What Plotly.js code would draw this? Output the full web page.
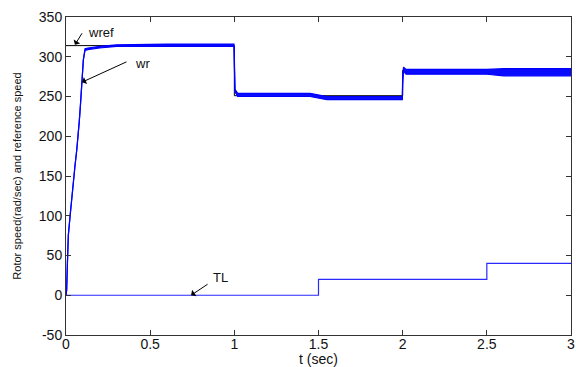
<!DOCTYPE html>
<html>
<head>
<meta charset="utf-8">
<script src="https://cdn.plot.ly/plotly-3.0.1.min.js"></script>
<style>
html,body{margin:0;padding:0;background:#fff;}
#chart{width:576px;height:367px;}
</style>
</head>
<body>
<div id="chart"></div>
<script>
// Reference speed (wref)
var tRef = [0, 1, 1, 2, 2, 3];
var wRef = [314, 314, 251, 251, 283, 283];

// Load torque (TL)
var tLoad = [0, 1.5, 1.5, 2.5, 2.5, 3];
var tlLoad = [0, 0, 20, 20, 40, 40];

// Rotor speed (wr) – lower / upper envelope of the rippled trace
var tWr = [0, 0.004, 0.008, 0.014, 0.024, 0.034, 0.043, 0.053, 0.064, 0.073, 0.079, 0.086, 0.093, 0.103, 0.113, 0.13, 0.2, 0.3, 0.6, 0.998, 1.0, 1.004, 1.02, 1.45, 1.55, 1.998, 2.0, 2.005, 2.02, 2.5, 2.6, 3.0];
var wrLow = [0, 7, 38, 76, 99, 123, 143, 162, 183, 200, 219, 240, 271, 296, 308, 309, 311, 313, 313, 313, 290, 256, 250, 250, 246, 246, 265, 282, 278, 278, 276, 276];
var wrHigh = [0, 7, 38, 76, 99, 123, 143, 162, 183, 200, 219, 240, 271, 296, 310, 311, 313, 315, 316, 316, 300, 259, 254, 254, 250, 250, 275, 287, 284, 284, 285, 285];

// Tick values
var xTicks = [0, 0.5, 1, 1.5, 2, 2.5, 3];
var xTickText = ['0', '0.5', '1', '1.5', '2', '2.5', '3'];
var yTicks = [-50, 0, 50, 100, 150, 200, 250, 300, 350];
var yTickText = ['-50', '0', '50', '100', '150', '200', '250', '300', '350'];

var traces = [
  {x: tRef, y: wRef, mode: 'lines', line: {color: '#000000', width: 1}, name: 'wref', hoverinfo: 'skip'},
  {x: tLoad, y: tlLoad, mode: 'lines', line: {color: '#2a2aff', width: 1.2}, name: 'TL', hoverinfo: 'skip'},
  {x: tWr, y: wrLow, mode: 'lines', line: {color: '#0000ff', width: 1.2}, name: 'wr', hoverinfo: 'skip'},
  {x: tWr, y: wrHigh, mode: 'lines', line: {color: '#0000ff', width: 1.2}, fill: 'tonexty', fillcolor: '#0a0aff', name: 'wr', hoverinfo: 'skip'}
];

var tickFont = {family: 'Liberation Sans, Arial, sans-serif', size: 14, color: '#111'};
var xTickFont = {family: 'Liberation Sans, Arial, sans-serif', size: 14, color: '#111'};
var annFont = {family: 'Liberation Sans, Arial, sans-serif', size: 13, color: '#111'};

var layout = {
  width: 576, height: 367,
  margin: {l: 66, r: 5, t: 17, b: 32, pad: 0},
  paper_bgcolor: '#ffffff', plot_bgcolor: '#ffffff',
  showlegend: false,
  xaxis: {
    range: [0, 3], tickvals: xTicks, ticktext: xTickText,
    ticks: 'inside', ticklen: 5, tickcolor: '#333', tickwidth: 1,
    showline: true, linecolor: '#333', linewidth: 1, mirror: 'ticks',
    showgrid: false, zeroline: false, tickfont: xTickFont, automargin: false,
    ticklabelstandoff: -4,
    title: {text: 't (sec)', font: {family: 'Liberation Sans, Arial, sans-serif', size: 14, color: '#111'}, standoff: 20}
  },
  yaxis: {
    range: [-50, 350], tickvals: yTicks, ticktext: yTickText,
    ticks: 'inside', ticklen: 5, tickcolor: '#333', tickwidth: 1,
    showline: true, linecolor: '#333', linewidth: 1, mirror: 'ticks',
    showgrid: false, zeroline: false, tickfont: tickFont, automargin: false,
    title: {text: 'Rotor speed(rad/sec) and reference speed', font: {family: 'Liberation Sans, Arial, sans-serif', size: 11, color: '#111'}, standoff: 14}
  },
  annotations: [
    {x: 0.119, y: 330, xref: 'x', yref: 'y', text: 'wref', showarrow: false, xanchor: 'left', yanchor: 'middle', font: annFont},
    {x: 0.053, y: 315, xref: 'x', yref: 'y', text: '', showarrow: true, ax: 8, ay: -13, arrowhead: 1, arrowsize: 1.3, arrowwidth: 1, arrowcolor: '#000', font: {size: 2}},
    {x: 0.40, y: 291, xref: 'x', yref: 'y', text: 'wr', showarrow: false, xanchor: 'left', yanchor: 'middle', font: annFont},
    {x: 0.095, y: 268, xref: 'x', yref: 'y', text: '', showarrow: true, ax: 46, ay: -21, arrowhead: 1, arrowsize: 1.3, arrowwidth: 1, arrowcolor: '#000', font: {size: 2}},
    {x: 0.862, y: 22, xref: 'x', yref: 'y', text: 'TL', showarrow: false, xanchor: 'left', yanchor: 'middle', font: annFont},
    {x: 0.743, y: 0, xref: 'x', yref: 'y', text: '', showarrow: true, ax: 18, ay: -12, arrowhead: 1, arrowsize: 1.3, arrowwidth: 1, arrowcolor: '#000', font: {size: 2}}
  ]
};

Plotly.newPlot('chart', traces, layout, {staticPlot: true, displayModeBar: false});
</script>
</body>
</html>
